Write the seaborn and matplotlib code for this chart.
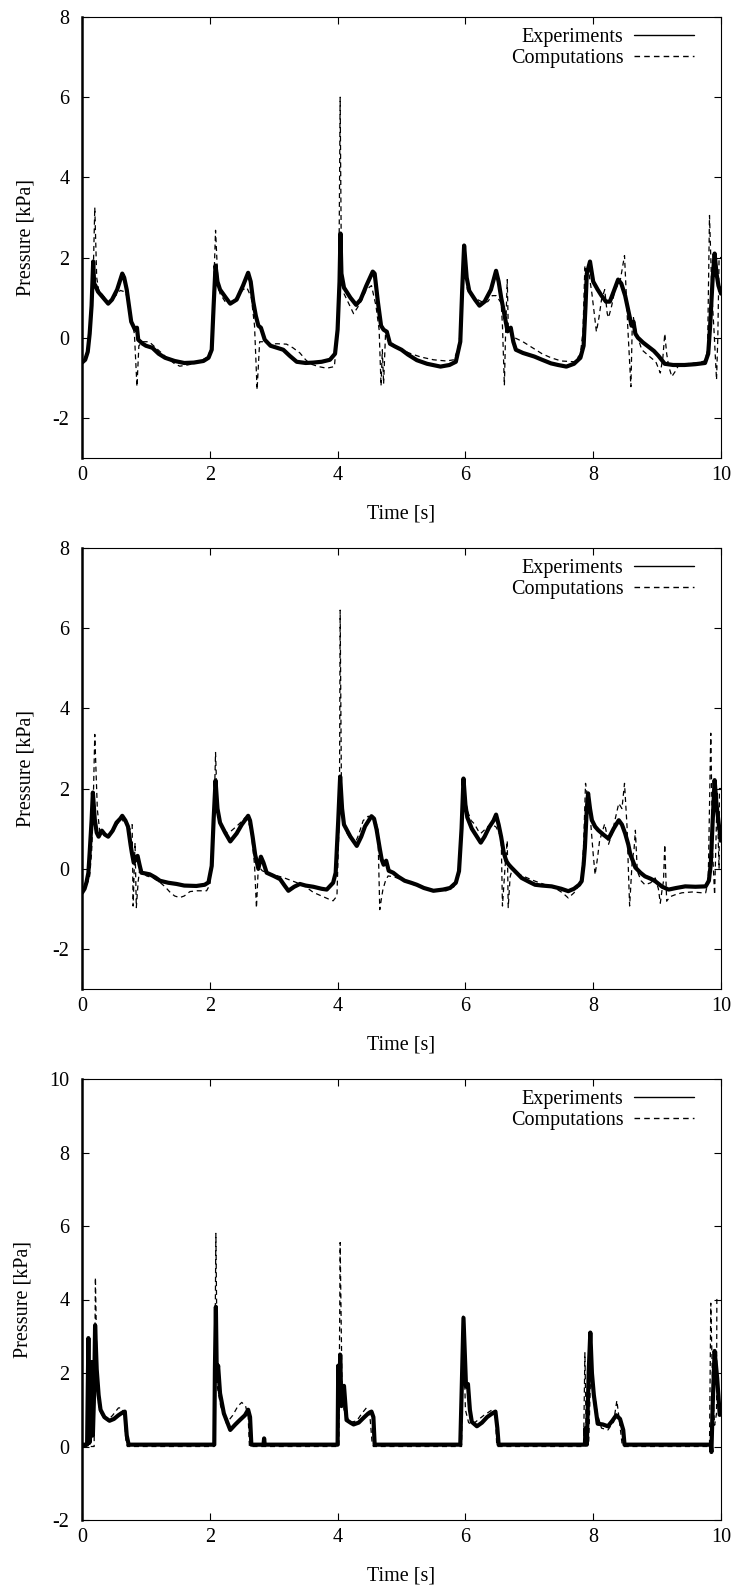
import matplotlib
matplotlib.use("Agg")
import matplotlib.pyplot as plt
import seaborn as sns
import pandas as pd

# ---------------- data ----------------
p1_exp_t = [0.00,0.05,0.09,0.12,0.15,0.175,0.19,0.21,0.25,0.33,0.41,0.47,0.55,0.63,0.66,0.70,0.73,0.77,0.80,0.83,0.86,0.88,0.95,1.0,1.1,1.2,1.3,1.45,1.6,1.75,1.9,1.98,2.03,2.06,2.09,2.12,2.16,2.25,2.32,2.42,2.52,2.60,2.64,2.68,2.72,2.76,2.80,2.86,2.95,3.05,3.15,3.25,3.36,3.5,3.62,3.75,3.88,3.96,4.00,4.03,4.045,4.06,4.10,4.2,4.29,4.36,4.45,4.55,4.58,4.63,4.68,4.72,4.77,4.82,4.9,5.0,5.1,5.24,5.4,5.61,5.75,5.85,5.92,5.95,5.98,6.02,6.06,6.15,6.22,6.30,6.40,6.48,6.52,6.56,6.62,6.66,6.71,6.75,6.79,6.9,7.08,7.2,7.34,7.45,7.58,7.7,7.80,7.85,7.88,7.90,7.95,8.0,8.07,8.13,8.2,8.26,8.32,8.39,8.44,8.5,8.56,8.6,8.63,8.66,8.7,8.78,8.86,8.95,9.02,9.12,9.25,9.43,9.6,9.75,9.80,9.83,9.87,9.90,9.93,9.96,10.0]
p1_exp_p = [-0.62,-0.55,-0.35,0.1,0.8,1.9,1.35,1.3,1.15,1.0,0.85,0.95,1.2,1.6,1.5,1.2,0.85,0.4,0.3,0.2,0.25,-0.05,-0.15,-0.2,-0.25,-0.4,-0.5,-0.58,-0.63,-0.62,-0.58,-0.5,-0.3,0.8,1.8,1.4,1.2,1.0,0.85,0.95,1.3,1.62,1.4,0.9,0.55,0.3,0.25,-0.05,-0.2,-0.25,-0.3,-0.45,-0.6,-0.63,-0.62,-0.6,-0.55,-0.4,0.2,1.4,2.6,1.6,1.25,1.0,0.82,0.95,1.3,1.65,1.6,0.9,0.3,0.2,0.15,-0.15,-0.22,-0.3,-0.42,-0.56,-0.65,-0.72,-0.68,-0.6,-0.1,1.2,2.3,1.5,1.17,0.95,0.8,0.9,1.2,1.67,1.4,1.0,0.5,0.16,0.25,-0.1,-0.3,-0.38,-0.47,-0.55,-0.64,-0.68,-0.72,-0.65,-0.5,-0.2,0.8,1.6,1.9,1.4,1.2,1.05,0.9,0.9,1.15,1.45,1.35,1.05,0.6,0.3,0.4,0.1,0.0,-0.12,-0.22,-0.33,-0.45,-0.65,-0.68,-0.68,-0.66,-0.63,-0.4,0.3,1.5,2.1,1.6,1.3,1.1]

p1_com_t = [0.00,0.05,0.10,0.14,0.17,0.20,0.23,0.26,0.33,0.41,0.5,0.6,0.66,0.72,0.77,0.82,0.86,0.89,0.95,1.05,1.12,1.3,1.45,1.53,1.65,1.79,1.95,2.02,2.06,2.09,2.13,2.16,2.26,2.34,2.42,2.52,2.58,2.65,2.70,2.74,2.78,2.85,2.94,3.05,3.2,3.3,3.41,3.5,3.57,3.7,3.83,3.95,4.00,4.02,4.04,4.06,4.10,4.16,4.25,4.35,4.45,4.53,4.60,4.65,4.68,4.70,4.72,4.75,4.82,4.9,5.0,5.15,5.3,5.5,5.7,5.82,5.88,5.91,5.94,5.98,6.03,6.1,6.19,6.28,6.35,6.42,6.48,6.56,6.58,6.61,6.63,6.655,6.67,6.69,6.77,6.9,7.08,7.2,7.34,7.5,7.71,7.80,7.84,7.87,7.90,7.92,7.98,8.05,8.09,8.13,8.18,8.22,8.24,8.29,8.34,8.42,8.49,8.54,8.59,8.61,8.63,8.65,8.70,8.76,8.89,8.98,9.05,9.09,9.12,9.15,9.18,9.23,9.28,9.34,9.45,9.6,9.75,9.79,9.82,9.86,9.89,9.93,9.95,9.97,10.0]
p1_com_p = [-0.62,-0.55,-0.3,0.4,1.2,3.25,1.5,1.2,1.05,0.88,1.0,1.18,1.15,1.0,0.5,0.1,-1.22,-0.2,-0.1,-0.1,-0.2,-0.46,-0.65,-0.71,-0.68,-0.63,-0.5,-0.3,1.2,2.68,1.3,1.1,0.85,0.9,1.0,1.2,1.25,1.0,0.3,-1.3,-0.1,-0.1,-0.16,-0.15,-0.16,-0.25,-0.38,-0.55,-0.65,-0.72,-0.76,-0.72,0.2,1.5,6.0,1.6,1.1,0.9,0.6,0.85,1.2,1.3,0.8,0.2,-1.2,-0.3,-1.15,0.1,-0.1,-0.2,-0.3,-0.4,-0.48,-0.55,-0.58,-0.55,-0.3,0.0,0.3,2.25,1.2,1.05,0.95,0.88,0.9,1.05,1.05,0.87,0.3,-1.19,0.2,1.45,0.3,0.2,0.0,-0.1,-0.28,-0.4,-0.5,-0.58,-0.6,-0.4,0.15,1.8,1.5,1.75,1.1,0.15,0.5,0.95,1.2,0.6,0.5,0.8,1.2,1.4,2.05,0.3,-1.22,0.2,0.5,0.3,0.0,-0.3,-0.48,-0.6,-0.88,-0.5,0.1,-0.4,-0.7,-0.97,-0.85,-0.68,-0.65,-0.63,-0.58,-0.3,3.05,1.0,0.2,-1.05,0.0,2.0,2.0]

p2_exp_t = [0.00,0.04,0.07,0.10,0.12,0.15,0.17,0.20,0.23,0.26,0.31,0.36,0.41,0.48,0.54,0.60,0.63,0.68,0.72,0.76,0.78,0.81,0.84,0.87,0.90,0.93,1.0,1.06,1.15,1.22,1.35,1.48,1.6,1.79,1.92,1.98,2.03,2.06,2.09,2.12,2.16,2.24,2.32,2.42,2.5,2.6,2.63,2.67,2.71,2.76,2.80,2.84,2.89,3.0,3.1,3.17,3.23,3.32,3.41,3.5,3.62,3.75,3.83,3.93,3.97,4.01,4.04,4.07,4.10,4.2,4.3,4.37,4.43,4.53,4.57,4.61,4.66,4.69,4.72,4.76,4.8,4.87,4.95,5.05,5.15,5.24,5.35,5.5,5.65,5.76,5.85,5.90,5.94,5.97,6.0,6.03,6.1,6.18,6.24,6.3,6.37,6.44,6.48,6.52,6.56,6.6,6.64,6.68,6.72,6.8,6.88,7.0,7.09,7.2,7.35,7.5,7.61,7.7,7.78,7.82,7.85,7.87,7.90,7.92,7.95,7.98,8.03,8.08,8.16,8.24,8.32,8.40,8.45,8.5,8.55,8.58,8.62,8.66,8.74,8.81,8.9,8.97,9.08,9.18,9.3,9.44,9.6,9.76,9.81,9.84,9.87,9.90,9.93,9.97,10.0]
p2_exp_p = [-0.6,-0.5,-0.34,-0.1,0.4,1.2,1.9,1.23,0.9,0.8,0.95,0.85,0.8,0.95,1.15,1.25,1.32,1.2,1.05,0.6,0.4,0.15,0.25,0.32,0.1,-0.1,-0.12,-0.14,-0.22,-0.3,-0.35,-0.38,-0.42,-0.43,-0.4,-0.34,0.07,1.23,2.2,1.5,1.15,0.9,0.68,0.88,1.1,1.32,1.2,0.8,0.35,0.0,0.3,0.15,-0.1,-0.18,-0.26,-0.42,-0.55,-0.45,-0.38,-0.42,-0.45,-0.5,-0.52,-0.35,-0.1,1.2,2.3,1.5,1.1,0.8,0.57,0.8,1.06,1.31,1.25,0.98,0.5,0.23,0.1,0.2,-0.05,-0.1,-0.2,-0.3,-0.35,-0.4,-0.48,-0.55,-0.52,-0.48,-0.35,-0.06,1.0,2.25,1.6,1.28,1.0,0.8,0.65,0.8,1.03,1.2,1.35,1.1,0.79,0.4,0.19,0.1,0.03,-0.1,-0.23,-0.33,-0.4,-0.42,-0.44,-0.5,-0.56,-0.5,-0.4,-0.31,0.1,0.53,1.5,1.88,1.5,1.21,1.05,0.96,0.85,0.75,1.0,1.21,1.1,0.88,0.6,0.36,0.2,0.03,-0.1,-0.19,-0.25,-0.31,-0.45,-0.52,-0.48,-0.44,-0.45,-0.44,-0.3,0.11,1.2,2.21,1.6,1.04,0.7]

p2_com_t = [0.00,0.05,0.10,0.12,0.15,0.17,0.20,0.24,0.28,0.34,0.41,0.5,0.59,0.65,0.70,0.75,0.785,0.80,0.83,0.85,0.88,0.91,0.95,1.01,1.1,1.22,1.3,1.38,1.45,1.53,1.6,1.69,1.8,1.95,2.0,2.03,2.07,2.09,2.12,2.18,2.26,2.34,2.42,2.48,2.55,2.60,2.65,2.70,2.73,2.76,2.82,2.89,3.0,3.15,3.25,3.35,3.5,3.62,3.75,3.85,3.93,3.99,4.02,4.03,4.04,4.06,4.08,4.14,4.2,4.27,4.33,4.4,4.48,4.55,4.58,4.61,4.63,4.66,4.69,4.71,4.75,4.79,4.88,4.98,5.1,5.3,5.5,5.7,5.82,5.88,5.90,5.94,5.97,6.0,6.03,6.09,6.14,6.2,6.24,6.32,6.40,6.48,6.54,6.56,6.58,6.62,6.655,6.67,6.70,6.74,6.85,7.0,7.09,7.25,7.4,7.52,7.61,7.7,7.78,7.82,7.85,7.88,7.92,7.95,8.0,8.03,8.07,8.10,8.18,8.22,8.24,8.30,8.34,8.40,8.45,8.49,8.53,8.55,8.57,8.61,8.64,8.66,8.69,8.75,8.81,8.9,8.97,9.02,9.05,9.08,9.10,9.12,9.15,9.2,9.28,9.39,9.55,9.7,9.76,9.80,9.84,9.87,9.90,9.94,9.96,9.97,9.975,10.0]
p2_com_p = [-0.6,-0.45,-0.3,-0.18,0.4,1.23,3.35,1.48,0.9,0.85,0.82,1.0,1.19,1.2,1.15,0.98,1.1,-0.93,0.65,-0.97,-0.3,0.07,-0.1,-0.18,-0.22,-0.34,-0.45,-0.59,-0.68,-0.72,-0.68,-0.57,-0.55,-0.55,-0.4,0.23,1.64,2.9,1.4,1.1,0.9,0.95,1.06,1.15,1.27,1.2,0.9,0.1,-0.98,0.07,-0.05,-0.1,-0.15,-0.22,-0.28,-0.34,-0.45,-0.59,-0.68,-0.75,-0.8,-0.68,1.0,2.06,6.45,2.0,1.4,0.9,0.75,0.62,0.85,1.2,1.31,1.2,1.15,1.1,0.98,-1.02,-0.7,-0.51,-0.3,-0.18,-0.2,-0.26,-0.35,-0.45,-0.56,-0.55,-0.45,-0.2,0.1,0.8,2.2,1.7,1.45,1.2,1.12,0.95,0.88,1.0,1.12,1.04,0.85,0.79,-0.93,0.03,0.7,-0.97,-0.2,0.03,-0.15,-0.25,-0.31,-0.4,-0.48,-0.6,-0.73,-0.6,-0.4,-0.23,0.6,2.13,1.7,1.37,0.36,-0.15,0.3,0.7,1.12,0.8,0.61,0.9,1.21,1.63,1.5,2.13,1.04,0.0,-0.93,0.19,0.5,0.96,-0.06,-0.3,-0.4,-0.35,-0.23,-0.5,-0.86,-0.5,-0.31,0.6,-0.81,-0.7,-0.65,-0.6,-0.58,-0.6,-0.6,-0.3,3.38,0.36,-0.65,1.88,0.5,0.0,2.0,2.0]

p3_exp_t = [0.00,0.08,0.10,0.115,0.14,0.155,0.17,0.19,0.205,0.23,0.26,0.29,0.35,0.43,0.5,0.57,0.63,0.67,0.70,0.73,1.0,1.5,2.0,2.07,2.08,2.095,2.11,2.13,2.16,2.22,2.32,2.4,2.47,2.55,2.6,2.63,2.65,2.84,2.85,2.86,3.5,4.0,4.01,4.03,4.04,4.06,4.10,4.14,4.2,4.25,4.33,4.4,4.48,4.53,4.56,4.58,5.0,5.5,5.92,5.94,5.97,6.01,6.04,6.07,6.1,6.18,6.26,6.34,6.42,6.47,6.50,6.52,7.0,7.5,7.87,7.88,7.9,7.93,7.955,7.98,8.01,8.07,8.15,8.23,8.3,8.36,8.42,8.47,8.49,9.0,9.5,9.84,9.85,9.87,9.90,9.94,9.98,10.0]
p3_exp_p = [0.05,0.05,2.95,0.1,0.4,2.3,0.3,1.5,3.3,2.1,1.4,1.0,0.8,0.7,0.75,0.85,0.92,0.95,0.3,0.05,0.05,0.05,0.05,0.05,2.1,3.8,1.8,2.2,1.45,0.9,0.45,0.6,0.72,0.85,1.0,0.8,0.05,0.05,0.22,0.05,0.05,0.05,2.2,1.2,2.5,1.1,1.65,0.72,0.65,0.6,0.65,0.77,0.9,0.95,0.8,0.05,0.05,0.05,0.05,1.4,3.5,1.63,1.7,1.0,0.67,0.55,0.65,0.8,0.9,0.95,0.5,0.05,0.05,0.05,0.05,0.5,0.05,2.06,3.1,2.0,1.4,0.62,0.6,0.55,0.7,0.85,0.75,0.45,0.05,0.05,0.05,0.05,-0.15,1.13,2.6,1.86,0.86,0.9]

p3_com_t = [0.00,0.19,0.21,0.24,0.27,0.33,0.40,0.48,0.57,0.62,0.66,0.69,0.71,2.07,2.095,2.12,2.17,2.26,2.36,2.44,2.5,2.56,2.60,2.62,4.02,4.04,4.07,4.10,4.19,4.30,4.38,4.45,4.50,4.54,4.56,5.94,5.965,6.0,6.05,6.1,6.16,6.29,6.42,6.47,6.49,6.5,7.85,7.87,7.89,7.93,7.96,8.0,8.07,8.13,8.23,8.32,8.37,8.41,8.45,8.47,9.82,9.84,9.87,9.90,9.93,9.935,10.0]
p3_com_p = [0.0,0.0,4.6,1.5,1.0,0.8,0.7,0.85,1.05,1.05,0.9,0.1,0.0,0.0,5.8,1.6,1.1,0.63,0.85,1.1,1.2,1.1,0.82,0.0,0.0,5.55,1.5,1.0,0.65,0.7,0.9,1.05,0.95,0.1,0.0,0.0,3.55,1.0,0.65,0.6,0.67,0.85,1.0,0.8,0.05,0.0,0.0,2.55,0.4,0.1,2.0,1.6,0.86,0.5,0.45,0.67,1.25,0.7,0.1,0.0,0.0,3.9,1.5,0.58,0.9,4.0,4.0]

panels = [
    (p1_exp_t, p1_exp_p, p1_com_t, p1_com_p, (-3, 8), [-2, 0, 2, 4, 6, 8]),
    (p2_exp_t, p2_exp_p, p2_com_t, p2_com_p, (-3, 8), [-2, 0, 2, 4, 6, 8]),
    (p3_exp_t, p3_exp_p, p3_com_t, p3_com_p, (-2, 10), [-2, 0, 2, 4, 6, 8, 10]),
]
x_ticks = [0, 2, 4, 6, 8, 10]
series_labels = ["Experiments", "Computations"]
x_label = "Time [s]"
y_label = "Pressure [kPa]"

# ---------------- style ----------------
sns.set_theme(style="ticks")
plt.rcParams["font.family"] = ["Liberation Serif", "DejaVu Serif"]
plt.rcParams["axes.unicode_minus"] = False
plt.rcParams["axes.linewidth"] = 0.8
plt.rcParams["text.color"] = "black"
plt.rcParams["axes.labelcolor"] = "black"
plt.rcParams["xtick.color"] = "black"
plt.rcParams["ytick.color"] = "black"

W, H = 733, 1592
fig = plt.figure(figsize=(W / 100, H / 100), dpi=100)
fig.patch.set_facecolor("white")

left_px, right_px = 82, 721
tops_px = [17, 548, 1079]
h_px = 441
FS = 14.5

for (et, ep, ct, cp, ylim, yticks), top in zip(panels, tops_px):
    ax = fig.add_axes([left_px / W, 1 - (top + h_px) / H,
                       (right_px - left_px) / W, h_px / H])
    ax.set_facecolor("white")
    df_e = pd.DataFrame({"t": et, "p": ep})
    df_c = pd.DataFrame({"t": ct, "p": cp})
    sns.lineplot(data=df_e, x="t", y="p", ax=ax, color="black", lw=3.0,
                 estimator=None, sort=False, label=series_labels[0])
    sns.lineplot(data=df_c, x="t", y="p", ax=ax, color="black", lw=0.9,
                 linestyle=(0, (4, 3)), estimator=None, sort=False,
                 label=series_labels[1])
    ax.set_xlim(0, 10)
    ax.set_ylim(*ylim)
    ax.set_xticks(x_ticks)
    ax.set_yticks(yticks)
    ax.tick_params(direction="in", length=5, width=0.8, top=True, right=True,
                   labelsize=FS, pad=6)
    ax.tick_params(axis="y", pad=9)
    for s in ax.spines.values():
        s.set_linewidth(0.8)
        s.set_color("black")
    ax.spines["left"].set_linewidth(1.8)
    ax.set_xlabel(x_label, fontsize=FS, labelpad=14)
    ax.set_ylabel(y_label, fontsize=FS, labelpad=12)
    handles, labels = ax.get_legend_handles_labels()
    ax.legend(handles, labels, loc="upper right", bbox_to_anchor=(0.958, 0.976),
              frameon=False, markerfirst=False, handlelength=3.0,
              handletextpad=0.5, borderpad=0, borderaxespad=0,
              labelspacing=0.1, fontsize=FS)
    leg = ax.get_legend()
    for line in leg.get_lines():
        line.set_linewidth(1.0)
    for t in leg.get_texts():
        t.set_ha("right")

fig.savefig("out.png", dpi=100, facecolor="white")
